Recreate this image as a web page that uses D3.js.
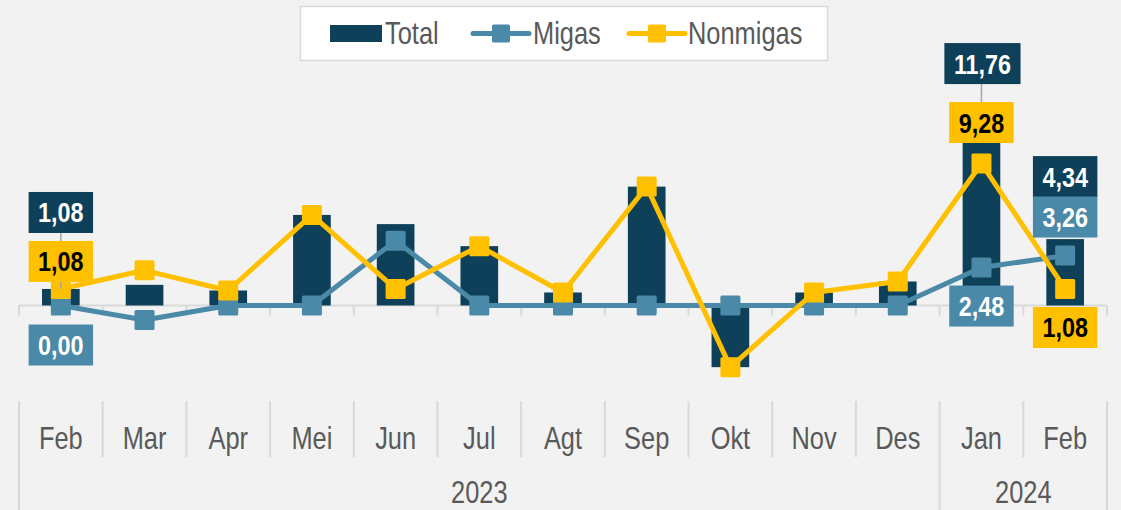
<!DOCTYPE html>
<html>
<head>
<meta charset="utf-8">
<script src="https://cdn.jsdelivr.net/npm/d3@7/dist/d3.min.js"></script>
<style>
  html, body { margin: 0; padding: 0; background: #f2f2f2; }
  svg { display: block; }
</style>
</head>
<body>
<svg id="chart" width="1121" height="510"></svg>
<script>
// Monthly growth (%) by component
const months = ["Feb", "Mar", "Apr", "Mei", "Jun", "Jul", "Agt", "Sep", "Okt", "Nov", "Des", "Jan", "Feb"];
const years = [{ label: "2023", from: 0, to: 11 }, { label: "2024", from: 11, to: 13 }];
const total    = [1.08, 1.35, 0.98, 5.92, 5.32, 3.88, 0.85, 7.77, -4.03, 0.85, 1.57, 11.76, 4.34];
const migas    = [0.00, -0.95, 0.00, 0.00, 4.24, 0.00, 0.00, 0.00, 0.00, 0.00, 0.00, 2.48, 3.26];
const nonmigas = [1.08, 2.30, 0.98, 5.92, 1.08, 3.88, 0.85, 7.77, -4.03, 0.85, 1.57, 9.28, 1.08];
const seriesNames = ["Total", "Migas", "Nonmigas"];

// Which points carry a value label, and where the label sits relative to the point
const labelSpecs = [
  { s: "total",    i: 0,  dy: -76.5, leader: true },
  { s: "nonmigas", i: 0,  dy: -27.5 },
  { s: "migas",    i: 0,  dy: 39.5 },
  { s: "total",    i: 11, dy: -62,   leader: true, dx: 1 },
  { s: "nonmigas", i: 11, dy: -41 },
  { s: "migas",    i: 11, dy: 38.5 },
  { s: "total",    i: 12, dy: -62.5 },
  { s: "migas",    i: 12, dy: -38.6 },
  { s: "nonmigas", i: 12, dy: 38.5 }
];

const colors = { total: "#0e4059", migas: "#4a89a8", nonmigas: "#ffc000" };
const values = { total, migas, nonmigas };
const textColor = { total: "#ffffff", migas: "#ffffff", nonmigas: "#000000" };

// Pick a condensed face if present, else squeeze the regular one
function hasFont(name) {
  const c = document.createElement("canvas").getContext("2d");
  const probe = "abcdefghijklmnopqrstuvwxyz0123456789";
  c.font = "40px monospace";
  const a = c.measureText(probe).width;
  c.font = `40px "${name}", monospace`;
  const b = c.measureText(probe).width;
  return Math.abs(a - b) > 0.5;
}
const narrow = hasFont("Liberation Sans Narrow");
const fontFamily = narrow ? "'Liberation Sans Narrow'" : "'Liberation Sans', Arial, sans-serif";
const sx = narrow ? 1 : 0.82;

const svg = d3.select("#chart");
const W = 1121, H = 510;

const x = d3.scaleBand().domain(d3.range(months.length)).range([19, 1107]).paddingInner(0).paddingOuter(0);
const y = d3.scaleLinear().domain([-6, 14]).range([397.3, 91.3]);
const bw = x.bandwidth() * 0.45;
const cx = i => x(i) + x.bandwidth() / 2;
const grid = "#d9d9d9";

function addText(g, tx, ty, str, opts) {
  return g.append("text")
    .attr("transform", `translate(${tx},${ty}) scale(${sx},1)`)
    .attr("text-anchor", opts.anchor || "middle")
    .attr("font-family", fontFamily)
    .attr("font-size", opts.size)
    .attr("font-weight", opts.weight || "normal")
    .attr("fill", opts.fill)
    .text(str);
}

// Zero line with small ticks at category boundaries
const axisG = svg.append("g");
const y0 = y(0);
axisG.append("line").attr("x1", 19).attr("x2", 1107).attr("y1", y0).attr("y2", y0)
  .attr("stroke", grid).attr("stroke-width", 2);
d3.range(months.length + 1).forEach(k => {
  const xx = k < months.length ? x(k) : x.range()[1];
  axisG.append("line").attr("x1", xx).attr("x2", xx).attr("y1", y0).attr("y2", y0 + 10)
    .attr("stroke", grid).attr("stroke-width", 2);
});

// Category axis at the bottom: month labels and year groups
const catG = svg.append("g");
const yearEdges = new Set(years.flatMap(yr => [yr.from, yr.to]));
d3.range(months.length + 1).forEach(k => {
  const xx = k < months.length ? x(k) : x.range()[1];
  const bottom = yearEdges.has(k) ? H : 457;
  catG.append("line").attr("x1", xx).attr("x2", xx).attr("y1", 401).attr("y2", bottom)
    .attr("stroke", grid).attr("stroke-width", 2);
});
months.forEach((m, i) => addText(catG, cx(i), 449, m, { size: 31, fill: "#595959" }));
years.forEach(yr => {
  const xm = (x(yr.from) + (yr.to < months.length ? x(yr.to) : x.range()[1])) / 2;
  addText(catG, xm, 503, yr.label, { size: 31, fill: "#595959" });
});

// Total bars
svg.append("g").selectAll("rect").data(total).join("rect")
  .attr("x", (d, i) => cx(i) - bw / 2)
  .attr("width", bw)
  .attr("y", d => Math.min(y(d), y0))
  .attr("height", d => Math.abs(y(d) - y0))
  .attr("fill", colors.total);

// Line series with square markers
const line = d3.line().x((d, i) => cx(i)).y(d => y(d));
["migas", "nonmigas"].forEach(key => {
  const g = svg.append("g");
  g.append("path").datum(values[key]).attr("d", line)
    .attr("fill", "none").attr("stroke", colors[key]).attr("stroke-width", 5)
    .attr("stroke-linejoin", "round").attr("stroke-linecap", "round");
  g.selectAll("rect").data(values[key]).join("rect")
    .attr("x", (d, i) => cx(i) - 10).attr("y", d => y(d) - 10)
    .attr("width", 20).attr("height", 20).attr("rx", 1.5)
    .attr("fill", colors[key]);
});

// Value labels
const fmt = v => d3.format(".2f")(v).replace(".", ",");
const leaderG = svg.append("g");
const labelG = svg.append("g");
labelSpecs.forEach(spec => {
  const v = values[spec.s][spec.i];
  const px = cx(spec.i) + (spec.dx || 0);
  const py = y(v);
  const ly = py + spec.dy;
  const g = labelG.append("g");
  const t = addText(g, px, ly + 10, fmt(v), { size: 28.5, weight: "bold", fill: textColor[spec.s] });
  const tw = t.node().getComputedTextLength() * sx;
  const bwid = tw + 19, bh = 41;
  g.insert("rect", "text").attr("x", px - bwid / 2).attr("y", ly - bh / 2)
    .attr("width", bwid).attr("height", bh).attr("fill", colors[spec.s]);
  if (spec.leader) {
    leaderG.append("line").attr("x1", cx(spec.i)).attr("x2", cx(spec.i))
      .attr("y1", ly + bh / 2).attr("y2", py)
      .attr("stroke", "#a6a6a6").attr("stroke-width", 1.5);
  }
});

// Legend
const lg = svg.append("g");
lg.append("rect").attr("x", 300.5).attr("y", 6.5).attr("width", 527).attr("height", 54)
  .attr("fill", "#ffffff").attr("stroke", grid).attr("stroke-width", 1.5);
const ly = 33.5;
lg.append("rect").attr("x", 330).attr("y", 25).attr("width", 52).attr("height", 17).attr("fill", colors.total);
addText(lg, 385, 44, seriesNames[0], { size: 31, fill: "#595959", anchor: "start" });
[["migas", 473, 533, seriesNames[1]], ["nonmigas", 629, 688, seriesNames[2]]].forEach(([key, x1, tx, name]) => {
  lg.append("line").attr("x1", x1).attr("x2", x1 + 56).attr("y1", ly).attr("y2", ly)
    .attr("stroke", colors[key]).attr("stroke-width", 5).attr("stroke-linecap", "round");
  lg.append("rect").attr("x", x1 + 28 - 9).attr("y", ly - 9).attr("width", 18).attr("height", 18)
    .attr("rx", 1.5).attr("fill", colors[key]);
  addText(lg, tx, 44, name, { size: 31, fill: "#595959", anchor: "start" });
});
</script>
</body>
</html>
